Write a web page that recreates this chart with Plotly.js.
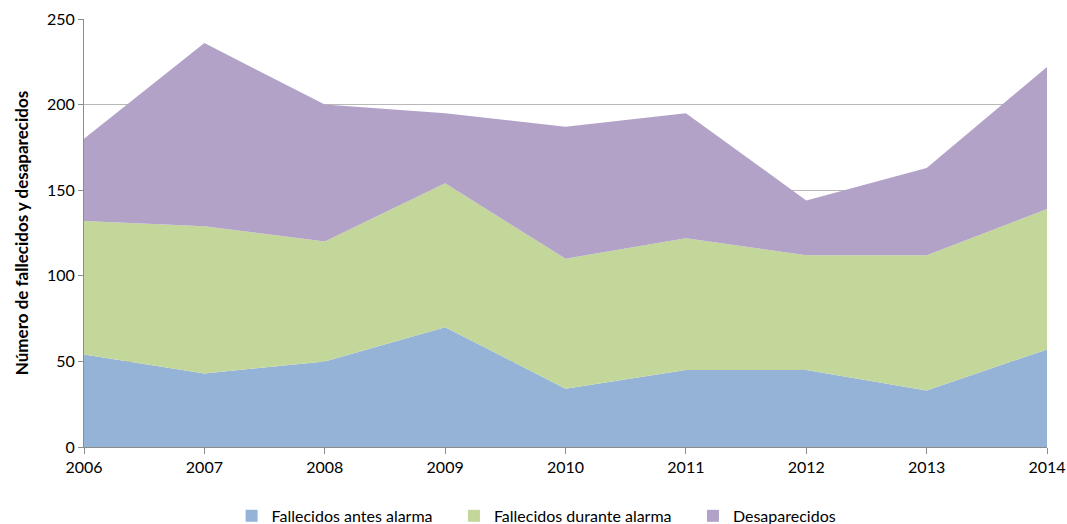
<!DOCTYPE html>
<html>
<head>
<meta charset="utf-8">
<script src="https://cdn.plot.ly/plotly-3.0.1.min.js"></script>
<style>html,body{margin:0;padding:0;background:#fff;}#chart{width:1067px;height:524px;}</style>
</head>
<body>
<div id="chart"></div>
<script>
const years = [2006, 2007, 2008, 2009, 2010, 2011, 2012, 2013, 2014];
const fallecidosAntes = [54, 43, 50, 70, 34, 45, 45, 33, 57];
const fallecidosDurante = [78, 86, 70, 84, 76, 77, 67, 79, 82];
const desaparecidos = [48, 107, 80, 41, 77, 73, 32, 51, 83];
const seriesNames = ["Fallecidos antes alarma", "Fallecidos durante alarma", "Desaparecidos"];
const seriesColors = ["#95b3d7", "#c4d79b", "#b3a2c7"];
const seriesValues = [fallecidosAntes, fallecidosDurante, desaparecidos];

const areaTraces = seriesValues.map((vals, i) => ({
  x: years,
  y: vals,
  name: seriesNames[i],
  type: "scatter",
  mode: "lines",
  stackgroup: "one",
  line: {width: 0, color: seriesColors[i]},
  fillcolor: seriesColors[i],
  showlegend: false,
  legendgroup: "g" + i
}));
// legend-only square swatches
const PAD = "\u00a0\u00a0\u00a0\u00a0";
const legendTraces = seriesNames.map((n, i) => ({
  x: [null], y: [null],
  type: "bar",
  name: i < seriesNames.length - 1 ? n + PAD : n,
  marker: {color: seriesColors[i]},
  legendgroup: "g" + i,
  showlegend: true
}));

const FONT = "Lato, 'Open Sans', sans-serif";
const layout = {
  width: 1067,
  height: 524,
  margin: {l: 84, r: 20, t: 19, b: 77, autoexpand: false},
  paper_bgcolor: "#ffffff",
  plot_bgcolor: "#ffffff",
  font: {family: FONT, size: 16, color: "#000"},
  showlegend: true,
  legend: {
    orientation: "h",
    x: 0.47, xanchor: "center",
    y: -0.161, yanchor: "middle",
    font: {size: 16, color: "#000"},
    itemwidth: 30,
    traceorder: "normal"
  },
  xaxis: {
    type: "linear",
    range: [2006, 2014],
    tickvals: years,
    ticktext: years.map(String),
    showgrid: false,
    zeroline: false,
    showline: true,
    linecolor: "#8c8c8c",
    linewidth: 1,
    ticks: "outside",
    ticklen: 6,
    tickcolor: "#8c8c8c",
    tickfont: {size: 16}
  },
  yaxis: {
    range: [0, 250],
    dtick: 50,
    tick0: 0,
    showgrid: true,
    gridcolor: "#b8b8b8",
    gridwidth: 1,
    zeroline: false,
    showline: true,
    linecolor: "#8c8c8c",
    linewidth: 1,
    ticks: "outside",
    ticklen: 5,
    tickcolor: "#8c8c8c",
    tickfont: {size: 16},
    title: {text: "Número de fallecidos y desaparecidos", font: {size: 17, color: "#000", family: FONT, weight: "bold"}, standoff: 14}
  },
  barmode: "overlay"
};

Plotly.newPlot("chart", areaTraces.concat(legendTraces), layout, {displayModeBar: false, staticPlot: true});
</script>
</body>
</html>
